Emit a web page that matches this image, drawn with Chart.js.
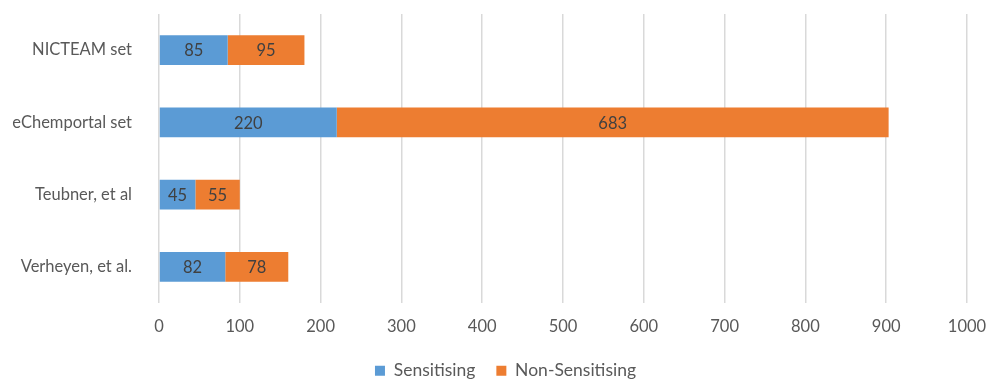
<!DOCTYPE html>
<html>
<head>
<meta charset="utf-8">
<script src="https://cdn.jsdelivr.net/npm/chart.js@4"></script>
<style>
  html, body { margin: 0; padding: 0; background: #fff; }
  #wrap { width: 989px; height: 382px; }
</style>
</head>
<body>
<div id="wrap"><canvas id="chart"></canvas></div>
<script>
// Data
const categories = ['NICTEAM set', 'eChemportal set', 'Teubner, et al', 'Verheyen, et al.'];
const sensitising = [85, 220, 45, 82];
const nonSensitising = [95, 683, 55, 78];
const seriesNames = ['Sensitising', 'Non-Sensitising'];

const FONT = 'Lato, "Open Sans", sans-serif';
const SIZE = 16.5;

// draw the value in the middle of each bar segment
const valueLabels = {
    id: 'valueLabels',
    afterDatasetsDraw(chart) {
        const ctx = chart.ctx;
        ctx.save();
        ctx.font = SIZE + 'px ' + FONT;
        ctx.fillStyle = '#404040';
        ctx.textAlign = 'center';
        ctx.textBaseline = 'middle';
        chart.data.datasets.forEach((ds, i) => {
            chart.getDatasetMeta(i).data.forEach((bar, j) => {
                const cx = (bar.x + bar.base) / 2;
                ctx.fillText(ds.data[j], cx, bar.y + 1);
            });
        });
        ctx.restore();
    }
};

// nudge the legend so it sits where the original one does
// (only the top moves so the legend's clip box still holds the text)
const legendShift = {
    id: 'legendShift',
    afterLayout(chart) {
        const lg = chart.legend;
        lg.left += 22;
        lg.right += 22;
        lg.top -= 11;
    }
};

new Chart(document.getElementById('chart'), {
    type: 'bar',
    data: {
        labels: categories,
        datasets: [
            { label: seriesNames[0], data: sensitising, backgroundColor: '#5b9bd5' },
            { label: seriesNames[1], data: nonSensitising, backgroundColor: '#ed7d31' }
        ]
    },
    options: {
        indexAxis: 'y',
        responsive: true,
        maintainAspectRatio: false,
        animation: false,
        layout: { padding: { top: 14, right: 22, left: 0, bottom: 0 } },
        datasets: { bar: { categoryPercentage: 1, barPercentage: 0.41 } },
        plugins: {
            tooltip: { enabled: false },
            legend: {
                position: 'bottom',
                maxHeight: 30,
                labels: {
                    font: { family: FONT, size: 17.5 },
                    color: '#595959',
                    boxWidth: 10,
                    boxHeight: 10,
                    padding: 21
                }
            }
        },
        scales: {
            x: {
                stacked: true,
                min: 0,
                max: 1000,
                ticks: {
                    stepSize: 100,
                    callback: v => String(v),
                    font: { family: FONT, size: SIZE },
                    color: '#595959',
                    padding: 14
                },
                grid: { color: '#d9d9d9', lineWidth: 1.5, drawTicks: false },
                border: { display: false },
                afterFit(scale) {
                    scale.height = 49;
                    scale.paddingLeft = 0;
                    scale.paddingRight = 0;
                }
            },
            y: {
                stacked: true,
                ticks: {
                    font: { family: FONT, size: SIZE },
                    color: '#595959',
                    padding: 19
                },
                grid: { display: false },
                border: { display: false },
                afterFit(scale) {
                    scale.width = 159;
                    scale.paddingTop = 0;
                    scale.paddingBottom = 0;
                }
            }
        }
    },
    plugins: [valueLabels, legendShift]
});
</script>
</body>
</html>
